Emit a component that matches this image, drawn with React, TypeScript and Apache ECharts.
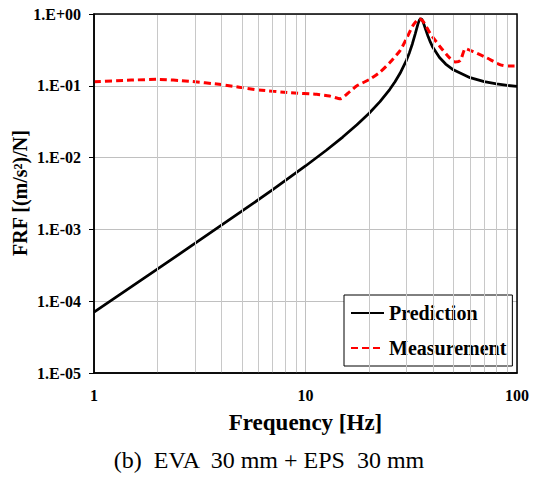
import React, { useEffect, useRef } from "react";
import * as echarts from "echarts";

const predFreq = [1, 2, 3, 5, 7, 10, 12.5, 15, 17.5, 20, 22.5, 25, 26.5, 28, 30, 31, 32, 33, 34, 34.5, 35, 35.5, 36, 37, 38, 39, 40, 43, 46, 50, 60, 70, 80, 90, 100];
const predVal = [7.02e-5, 2.817e-4, 6.365e-4, 1.792e-3, 3.583e-3, 7.645e-3, 0.012563, 0.019323, 0.028603, 0.04155, 0.060213, 0.08865, 0.11375, 0.14925, 0.22662, 0.28955, 0.38273, 0.5249, 0.7227, 0.8146, 0.86, 0.8392, 0.77066, 0.6079, 0.48467, 0.4013, 0.34376, 0.24772, 0.20098, 0.16706, 0.12985, 0.11441, 0.1062, 0.10122, 0.09793];

const measFreq = [1, 1.5, 2, 2.8, 4, 5.9, 8.5, 11.3, 13, 14.6, 16.2, 17.5, 20, 22.5, 25, 28, 30, 32.3, 34.5, 36, 38.8, 43.3, 48, 51, 54, 57, 62, 72, 83, 90, 100];
const measVal = [0.114, 0.12, 0.123, 0.116, 0.104, 0.088, 0.08, 0.076, 0.072, 0.066, 0.083, 0.1, 0.122, 0.155, 0.21, 0.31, 0.45, 0.7, 0.86, 0.79, 0.54, 0.35, 0.245, 0.215, 0.225, 0.33, 0.3, 0.245, 0.197, 0.188, 0.188];

const minorX = [2, 3, 4, 5, 6, 7, 8, 9, 20, 30, 40, 50, 60, 70, 80, 90];

const seriesNames = ["Prediction", "Measurement"];
const xTitle = "Frequency [Hz]";
const yTitle = "FRF [(m/s²)/N]";
const caption = "(b)  EVA  30 mm + EPS  30 mm";

const FONT = "Liberation Serif";

export default function App() {
  const ref = useRef<HTMLDivElement>(null);
  useEffect(() => {
    if (!ref.current) return;
    const chart = echarts.init(ref.current, null, { renderer: "svg" });
    const fmtY = (v: number) => {
      const e = Math.round(Math.log10(v));
      const a = Math.abs(e);
      return "1.E" + (e >= 0 ? "+" : "-") + (a < 10 ? "0" + a : String(a));
    };
    chart.setOption({
      animation: false,
      backgroundColor: "#fff",
      grid: { left: 94, top: 14, width: 423, height: 359, show: false },
      xAxis: {
        type: "log",
        logBase: 10,
        min: 1,
        max: 100,
        axisLine: { show: true, onZero: false, lineStyle: { color: "#000", width: 1.5 } },
        axisTick: { show: false },
        axisLabel: {
          margin: 14,
          color: "#000",
          fontFamily: FONT,
          fontWeight: "bold",
          fontSize: 16,
          formatter: (v: number) => String(Math.round(v)),
        },
        splitLine: { show: true, lineStyle: { color: "#c0c0c0", width: 1 } },
      },
      yAxis: {
        type: "log",
        logBase: 10,
        min: 1e-5,
        max: 1,
        axisLine: { show: true, onZero: false, lineStyle: { color: "#000", width: 1.5 } },
        axisTick: { show: true, inside: false, length: 5, lineStyle: { color: "#000", width: 1 } },
        axisLabel: {
          margin: 13,
          color: "#000",
          fontFamily: FONT,
          fontWeight: "bold",
          fontSize: 16,
          formatter: fmtY,
        },
        splitLine: { show: true, lineStyle: { color: "#c0c0c0", width: 1 } },
      },
      legend: {
        orient: "vertical",
        left: 344,
        top: 295,
        data: seriesNames,
        backgroundColor: "#fff",
        borderColor: "#000",
        borderWidth: 1,
        padding: [7, 6, 7, 6],
        itemGap: 13,
        itemWidth: 33,
        itemHeight: 14,
        itemStyle: { opacity: 0 },
        textStyle: { color: "#000", fontFamily: FONT, fontWeight: "bold", fontSize: 20, lineHeight: 22 },
      },
      graphic: [
        {
          type: "rect",
          shape: { x: 94, y: 14, width: 423, height: 359 },
          style: { fill: "none", stroke: "#000", lineWidth: 1.5 },
          z: 50,
          silent: true,
        },
        {
          type: "text",
          x: 305.5,
          y: 422,
          style: { text: xTitle, fontFamily: FONT, fontWeight: "bold", fontSize: 23, fill: "#000", align: "center", verticalAlign: "middle" },
        },
        {
          type: "text",
          x: 19.5,
          y: 193,
          rotation: Math.PI / 2,
          style: { text: yTitle, fontFamily: FONT, fontWeight: "bold", fontSize: 20, fill: "#000", align: "center", verticalAlign: "middle" },
        },
        {
          type: "text",
          x: 269,
          y: 460,
          style: { text: caption, fontFamily: FONT, fontSize: 24, fill: "#000", align: "center", verticalAlign: "middle" },
        },
      ],
      series: [
        {
          name: "minor",
          type: "line",
          data: [],
          z: 1,
          silent: true,
          markLine: {
            silent: true,
            symbol: "none",
            label: { show: false },
            lineStyle: { color: "#c8c8c8", width: 1, type: "solid" },
            data: minorX.map((x) => ({ xAxis: x })),
          },
        },
        {
          name: seriesNames[0],
          type: "line",
          data: predFreq.map((f, i) => [f, predVal[i]]),
          symbol: "none",
          smooth: false,
          z: 3,
          lineStyle: { color: "#000", width: 2.75 },
          itemStyle: { color: "#000" },
        },
        {
          name: seriesNames[1],
          type: "line",
          data: measFreq.map((f, i) => [f, measVal[i]]),
          symbol: "none",
          smooth: 0.2,
          z: 4,
          lineStyle: { color: "#ff0000", width: 3, type: [7, 4] },
          itemStyle: { color: "#ff0000" },
        },
      ],
    });
    return () => chart.dispose();
  }, []);
  return <div ref={ref} style={{ position: "fixed", left: 0, top: 0, width: 542, height: 477 }} />;
}
